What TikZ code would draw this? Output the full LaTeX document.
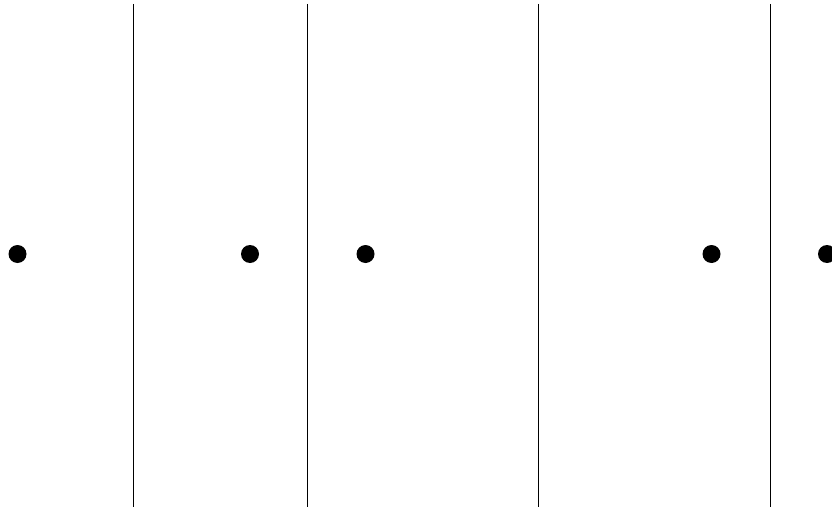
\documentclass[tikz,border=0pt]{standalone}
\begin{document}
\begin{tikzpicture}[x=1pt,y=-1pt,
  dot/.style={circle,fill=black,inner sep=0pt,minimum size=18pt},
  wall/.style={draw=black,line width=1pt}]
\useasboundingbox (0,0) rectangle (832,508);
\foreach \x/\n in {133/a,307/b,538/c,770/d}{
  \coordinate (\n top) at (\x,4);
  \coordinate (\n bot) at (\x,507);
  \draw[wall] (\n top) -- (\n bot);
}
\node[dot] (p1) at (17.5,254) {};
\node[dot] (p2) at (250,254) {};
\node[dot] (p3) at (365.5,254) {};
\node[dot] (p4) at (711.5,254) {};
\node[dot] (p5) at (827,254) {};
\end{tikzpicture}
\end{document}
